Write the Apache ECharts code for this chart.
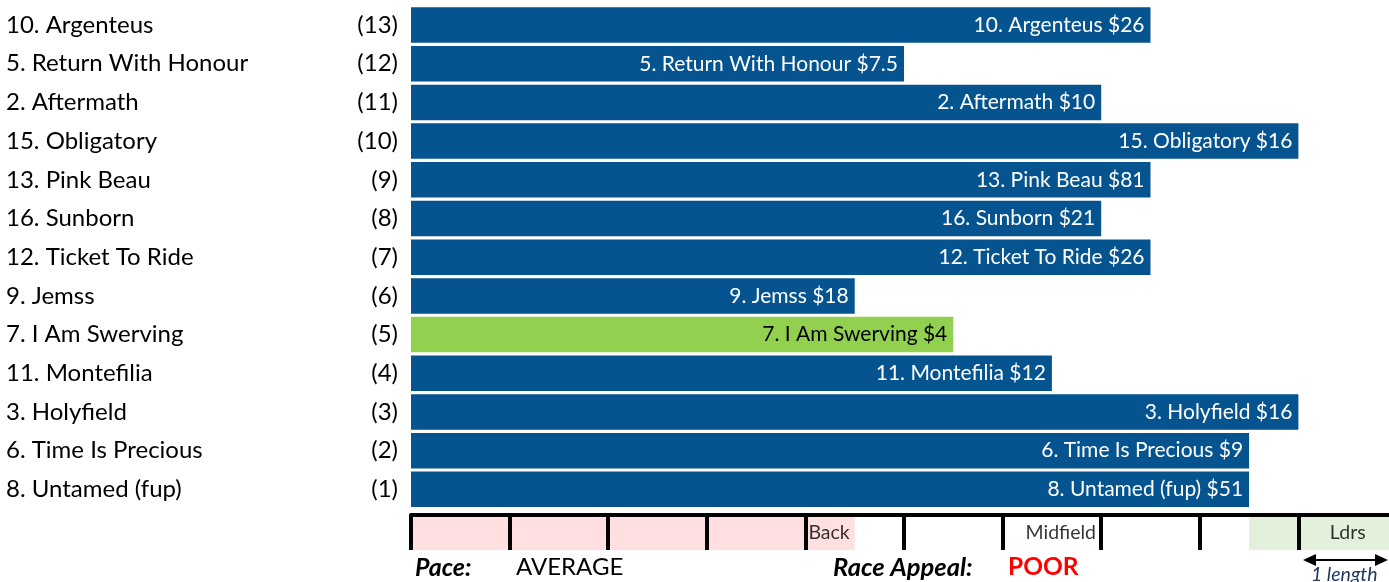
<!DOCTYPE html>
<html>
<head>
<meta charset="utf-8">
<script src="https://cdn.jsdelivr.net/npm/echarts@6/dist/echarts.min.js"></script>
<style>
html,body{margin:0;padding:0;background:#fff;}
#c{width:1389px;height:582px;}
</style>
</head>
<body>
<div id="c"></div>
<script>
// ---- data ----
const runners = ['10. Argenteus','5. Return With Honour','2. Aftermath','15. Obligatory','13. Pink Beau','16. Sunborn','12. Ticket To Ride','9. Jemss','7. I Am Swerving','11. Montefilia','3. Holyfield','6. Time Is Precious','8. Untamed (fup)'];
const positions = [13,12,11,10,9,8,7,6,5,4,3,2,1];
const lengths = [7.5,5,7,9,7.5,7,7.5,4.5,5.5,6.5,9,8.5,8.5];
const prices = ['$26','$7.5','$10','$16','$81','$21','$26','$18','$4','$12','$16','$9','$51'];
const zoneLabels = ['Back','Midfield','Ldrs'];
const zoneLabelAt = [4.24,6.59,9.5];
const backZone = [0,4.5];
const leaderZone = [8.5,10];
const paceText = 'AVERAGE';
const appealText = 'POOR';
const highlightRunner = '7. I Am Swerving';

const FONT = 'Lato';
const BLUE = '#05548F';
const GREEN = '#92D050';

const chart = echarts.init(document.getElementById('c'), null, {renderer:'canvas'});

const barData = runners.map((r,i)=>{
  const hi = r === highlightRunner;
  return {
    value: lengths[i],
    itemStyle:{color: hi ? GREEN : BLUE},
    label:{color: hi ? '#000' : '#fff'}
  };
});

const GL = 411, GW = 986;

chart.setOption({
  animation:false,
  backgroundColor:'#fff',
  grid:[
    {left:GL, width:GW, top:5.7, height:503, containLabel:false, outerBoundsMode:'none'},
    {left:GL, width:GW, top:515, height:35, containLabel:false, outerBoundsMode:'none'}
  ],
  xAxis:[
    {gridIndex:0, type:'value', min:0, max:10, show:false},
    {gridIndex:1, type:'value', min:0, max:10, interval:1, position:'top', z:5,
     axisLine:{show:true, onZero:false, lineStyle:{color:'#000', width:4}},
     axisTick:{show:false}, axisLabel:{show:false},
     splitLine:{show:true, lineStyle:{color:'#000', width:4}}}
  ],
  yAxis:[
    {gridIndex:0, type:'category', inverse:true, data:runners,
     axisLine:{show:false}, axisTick:{show:false}, splitLine:{show:false},
     axisLabel:{
       align:'left', margin:405,
       formatter:(v, idx)=>'{n|'+v+'}{p|('+positions[idx]+')}',
       rich:{
         n:{width:330, align:'left', fontFamily:FONT, fontSize:24, color:'#000'},
         p:{width:62, align:'right', fontFamily:FONT, fontSize:24, color:'#000'}
       }
     }},
    {gridIndex:1, type:'value', min:0, max:1, show:false}
  ],
  series:[
    {
      type:'bar', xAxisIndex:0, yAxisIndex:0,
      data:barData, barWidth:35.5,
      label:{show:true, position:'insideRight', distance:6,
        fontFamily:FONT, fontSize:21,
        formatter:(p)=>runners[p.dataIndex]+' '+prices[p.dataIndex]}
    },
    {
      type:'scatter', xAxisIndex:1, yAxisIndex:1, symbolSize:0, silent:true,
      data:zoneLabels.map((t,i)=>({value:[zoneLabelAt[i],0.5], name:t})),
      label:{show:true, position:'inside', formatter:(p)=>p.name,
        fontFamily:FONT, fontSize:19.5, color:'#000'},
      markArea:{silent:true, data:[
        [{xAxis:backZone[0], itemStyle:{color:'#FFDFDF'}},{xAxis:backZone[1]}],
        [{xAxis:leaderZone[0], itemStyle:{color:'#E3F0DB'}},{xAxis:leaderZone[1]}]
      ]}
    }
  ],
  graphic:[
    {type:'text', left:415, top:555, style:{text:'Pace:', fontFamily:FONT, fontSize:25, fontWeight:'bold', fontStyle:'italic', fill:'#000'}},
    {type:'text', left:516, top:555, style:{text:paceText, fontFamily:FONT, fontSize:24, fill:'#000'}},
    {type:'text', left:833, top:555, style:{text:'Race Appeal:', fontFamily:FONT, fontSize:25.5, fontWeight:'bold', fontStyle:'italic', fill:'#000'}},
    {type:'text', left:1008, top:555, style:{text:appealText, fontFamily:FONT, fontSize:24.5, fontWeight:'bold', fill:'#FF0000'}},
    {type:'line', shape:{x1:1312, y1:560, x2:1378, y2:560}, style:{stroke:'#000', lineWidth:2}},
    {type:'polygon', shape:{points:[[1303,560],[1316,554],[1316,566]]}, style:{fill:'#000'}},
    {type:'polygon', shape:{points:[[1388,560],[1375,554],[1375,566]]}, style:{fill:'#000'}},
    {type:'text', left:1311, top:565, style:{text:'1 length', fontFamily:FONT, fontSize:19.5, fontStyle:'italic', fill:'#1F3864'}}
  ]
});
</script>
</body>
</html>
